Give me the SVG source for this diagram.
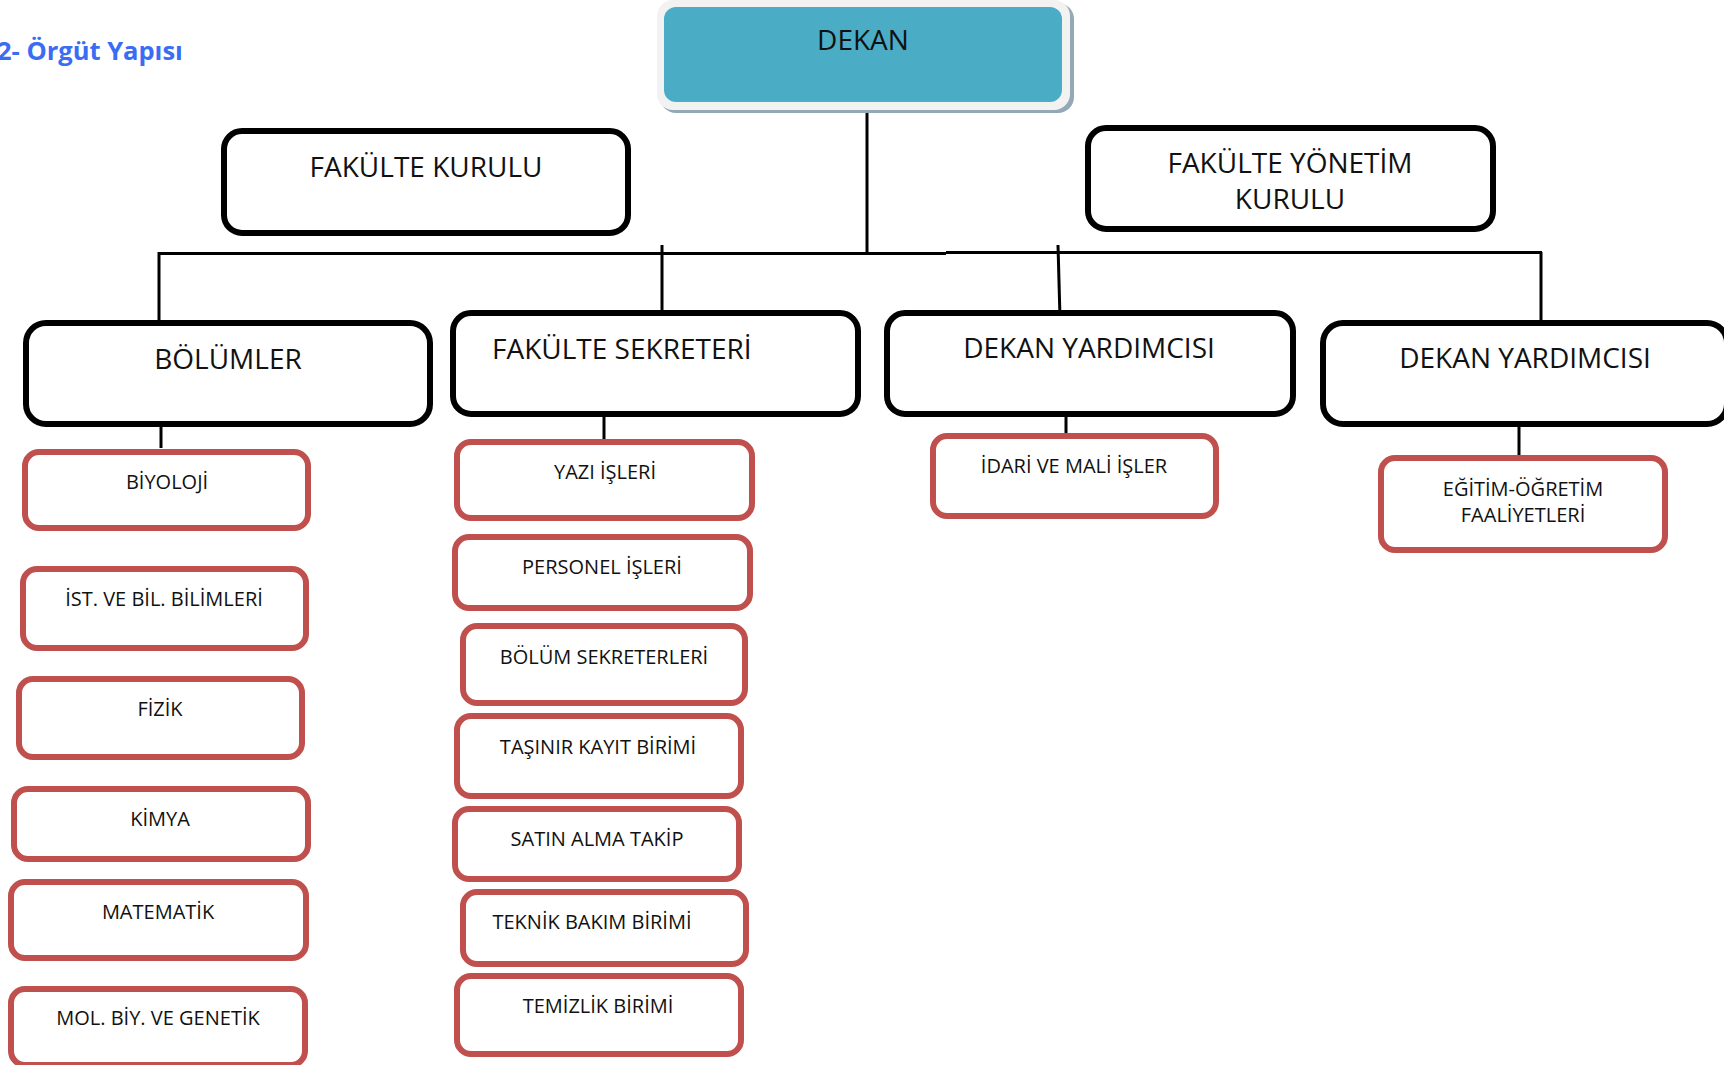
<svg xmlns="http://www.w3.org/2000/svg" width="1724" height="1065" viewBox="0 0 1724 1065">
<style>
.blk{fill:#fff;stroke:#000;stroke-width:6}
.red{fill:#fff;stroke:#C0504D;stroke-width:6}
.t1{font-family:"Open Sans","DejaVu Sans",sans-serif;font-size:28px;fill:#111;text-anchor:middle}
.t2{font-family:"Open Sans","DejaVu Sans",sans-serif;font-size:20px;fill:#111;text-anchor:middle}
.ln{stroke:#000;stroke-width:3;fill:none}
</style>
<rect width="1724" height="1065" fill="#fff"/>
<text x="-3" y="60" font-family="'Open Sans','DejaVu Sans',sans-serif" font-size="25.5" font-weight="bold" fill="#3a6cf4">2- Örgüt Yapısı</text>
<g id="connectors">
<line class="ln" x1="867" y1="106" x2="867" y2="254"/>
<line class="ln" x1="158" y1="253.5" x2="946" y2="253.5"/>
<line class="ln" x1="946" y1="252.5" x2="1542" y2="252.5" stroke-width="2.5"/>
<line class="ln" x1="159" y1="252" x2="159" y2="321"/>
<line class="ln" x1="662" y1="245" x2="662" y2="311"/>
<line class="ln" x1="1058" y1="245" x2="1060" y2="318"/>
<line class="ln" x1="1541" y1="252" x2="1541" y2="321" stroke-width="2.5"/>
<line class="ln" x1="161" y1="422" x2="161" y2="448"/>
<line class="ln" x1="604" y1="412" x2="604" y2="442"/>
<line class="ln" x1="1066" y1="412" x2="1066" y2="436"/>
<line class="ln" x1="1519" y1="424" x2="1519" y2="458"/>
</g>
<g id="dekan">
<rect x="660" y="3" width="414" height="110" rx="16" fill="#93A9B5"/>
<rect x="657" y="0" width="413" height="110" rx="16" fill="#F2F2F2"/>
<rect x="664" y="7" width="398" height="95" rx="12" fill="#4BACC6"/>
<text class="t1" x="863" y="50">DEKAN</text>
</g>
<g id="fakulte-kurulu">
<rect class="blk" x="224" y="131" width="404" height="102" rx="18"/>
<text class="t1" x="426" y="177">FAKÜLTE KURULU</text>
</g>
<g id="fakulte-yonetim-kurulu">
<rect class="blk" x="1088" y="128" width="405" height="101" rx="18"/>
<text class="t1" x="1290" y="173">FAKÜLTE YÖNETİM</text>
<text class="t1" x="1290" y="209">KURULU</text>
</g>
<g id="bolumler">
<rect class="blk" x="26" y="323" width="404" height="101" rx="20"/>
<text class="t1" x="228" y="369">BÖLÜMLER</text>
</g>
<g id="fakulte-sekreteri">
<rect class="blk" x="453" y="313" width="405" height="101" rx="18"/>
<text class="t1" x="492" y="359" style="text-anchor:start">FAKÜLTE SEKRETERİ</text>
</g>
<g id="dekan-yardimcisi-1">
<rect class="blk" x="887" y="313" width="406" height="101" rx="18"/>
<text class="t1" x="1089" y="358">DEKAN YARDIMCISI</text>
</g>
<g id="dekan-yardimcisi-2">
<rect class="blk" x="1323" y="323" width="404" height="101" rx="20"/>
<text class="t1" x="1525" y="368">DEKAN YARDIMCISI</text>
</g>
<g id="biyoloji"><rect class="red" x="25" y="452" width="283" height="76" rx="14"/><text class="t2" x="167" y="489">BİYOLOJİ</text></g>
<g id="ist-bil"><rect class="red" x="23" y="569" width="283" height="79" rx="14"/><text class="t2" x="164" y="606">İST. VE BİL. BİLİMLERİ</text></g>
<g id="fizik"><rect class="red" x="19" y="679" width="283" height="78" rx="14"/><text class="t2" x="160" y="716">FİZİK</text></g>
<g id="kimya"><rect class="red" x="14" y="789" width="294" height="70" rx="14"/><text class="t2" x="160" y="826">KİMYA</text></g>
<g id="matematik"><rect class="red" x="11" y="882" width="295" height="76" rx="14"/><text class="t2" x="158" y="919">MATEMATİK</text></g>
<g id="mol-biy"><rect class="red" x="11" y="989" width="294" height="76" rx="14"/><text class="t2" x="158" y="1025">MOL. BİY. VE GENETİK</text></g>
<g id="yazi-isleri"><rect class="red" x="457" y="442" width="295" height="76" rx="14"/><text class="t2" x="605" y="479">YAZI İŞLERİ</text></g>
<g id="personel-isleri"><rect class="red" x="455" y="537" width="295" height="71" rx="14"/><text class="t2" x="602" y="574">PERSONEL İŞLERİ</text></g>
<g id="bolum-sekreterleri"><rect class="red" x="463" y="626" width="282" height="77" rx="14"/><text class="t2" x="604" y="664">BÖLÜM SEKRETERLERİ</text></g>
<g id="tasinir-kayit"><rect class="red" x="457" y="716" width="284" height="80" rx="14"/><text class="t2" x="598" y="754">TAŞINIR KAYIT BİRİMİ</text></g>
<g id="satin-alma"><rect class="red" x="455" y="809" width="284" height="70" rx="14"/><text class="t2" x="597" y="846">SATIN ALMA TAKİP</text></g>
<g id="teknik-bakim"><rect class="red" x="463" y="892" width="283" height="72" rx="14"/><text class="t2" x="592" y="929">TEKNİK BAKIM BİRİMİ</text></g>
<g id="temizlik"><rect class="red" x="457" y="976" width="284" height="78" rx="14"/><text class="t2" x="598" y="1013">TEMİZLİK BİRİMİ</text></g>
<g id="idari-mali"><rect class="red" x="933" y="436" width="283" height="80" rx="14"/><text class="t2" x="1074" y="473">İDARİ VE MALİ İŞLER</text></g>
<g id="egitim-ogretim"><rect class="red" x="1381" y="458" width="284" height="92" rx="14"/><text class="t2" x="1523" y="496">EĞİTİM-ÖĞRETİM</text><text class="t2" x="1523" y="522">FAALİYETLERİ</text></g>
</svg>
